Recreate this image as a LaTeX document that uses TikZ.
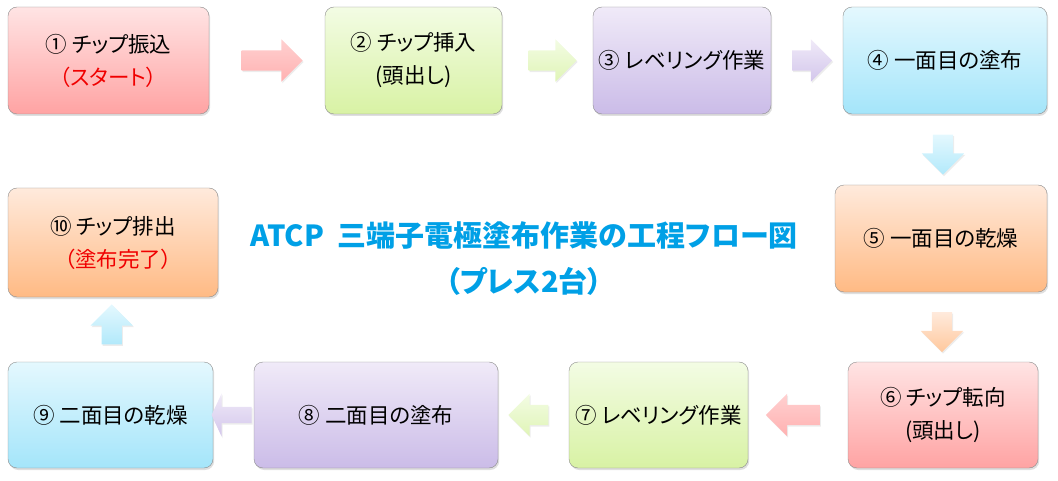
\documentclass[tikz,border=0pt]{standalone}
\usepackage{fontspec}
\usepackage{xcolor}
\newfontfamily\jp[RawFeature=+palt]{Noto Sans CJK JP}
\usetikzlibrary{positioning,shapes.arrows,shadows,calc}

\definecolor{pinkT}{HTML}{FFE4E4}
\definecolor{pinkB}{HTML}{FFA3A3}
\definecolor{greenT}{HTML}{F3FCE4}
\definecolor{greenB}{HTML}{D8F2A4}
\definecolor{lilacT}{HTML}{F0EAF8}
\definecolor{lilacB}{HTML}{CBBCE8}
\definecolor{cyanT}{HTML}{E4F8FE}
\definecolor{cyanB}{HTML}{A4E5FA}
\definecolor{peachT}{HTML}{FFEADC}
\definecolor{peachB}{HTML}{FFBA84}
\definecolor{ttlblue}{RGB}{0,160,230}
\definecolor{redtxt}{RGB}{240,0,0}

\begin{document}
\begin{tikzpicture}[x=1pt,y=-1pt,
  box/.style={draw=black!45,rounded corners=9pt,align=center,
              font=\jp\fontsize{21.5}{33}\selectfont,minimum height=107pt,
              drop shadow={opacity=0.25,shadow xshift=1.2pt,shadow yshift=-2pt}},
  pinkbox/.style={box,top color=pinkT,bottom color=pinkB},
  greenbox/.style={box,top color=greenT,bottom color=greenB},
  lilacbox/.style={box,top color=lilacT,bottom color=lilacB},
  cyanbox/.style={box,top color=cyanT,bottom color=cyanB},
  peachbox/.style={box,top color=peachT,bottom color=peachB},
  title/.style={align=center,text=ttlblue,font=\jp\bfseries\fontsize{29}{46}\selectfont},
  flow/.style={single arrow,draw=none,inner sep=10pt,minimum height=40pt,
               single arrow head extend=11pt,
               drop shadow={opacity=0.15,shadow xshift=1pt,shadow yshift=-1.5pt}},
  pinkarr/.style={flow,top color=pinkT!70!pinkB,bottom color=pinkB!85},
  greenarr/.style={flow,top color=greenT,bottom color=greenB!80},
  lilacarr/.style={flow,top color=lilacT,bottom color=lilacB!85},
  cyanarr/.style={flow,top color=cyanT,bottom color=cyanB!85},
  peacharr/.style={flow,top color=peachT,bottom color=peachB!80}]
\useasboundingbox (0,0) rectangle (1058,481);

% boxes
\node[pinkbox,minimum width=201pt] (b1) at (108.5,60.5) {① チップ振込\\
  \textcolor{redtxt}{（スタート）}};
\node[greenbox,minimum width=177pt] (b2) at (413.5,60.5) {② チップ挿入\\ (頭出し)};
\node[lilacbox,minimum width=178pt] (b3) at (682,60.5) {③ レベリング作業};
\node[cyanbox,minimum width=204pt] (b4) at (945,60.5) {④ 一面目の塗布};
\node[peachbox,minimum width=212pt] (b5) at (941,238.5) {⑤ 一面目の乾燥};
\node[pinkbox,minimum width=190pt,minimum height=106pt] (b6) at (943,415)
  {⑥ チップ転向\\ (頭出し)};
\node[greenbox,minimum width=179pt,minimum height=106pt] (b7) at (658.5,415)
  {⑦ レベリング作業};
\node[lilacbox,minimum width=244pt,minimum height=106pt] (b8) at (376,415)
  {⑧ 二面目の塗布};
\node[cyanbox,minimum width=205pt,minimum height=106pt] (b9) at (110.5,415)
  {⑨ 二面目の乾燥};
\node[peachbox,minimum width=210pt,minimum height=109pt] (b10) at (113,242.5)
  {⑩ チップ排出\\ \hspace{0.5em}\textcolor{redtxt}{（塗布完了）}};

\node[title] (ttl) at (524,259) {ATCP\hspace{0.25em} 三端子電極塗布作業の工程フロー図\\
  （プレス2台）};

% block arrows
\path (b1.east) -- node[pinkarr,minimum height=61pt] (a1) {} (b2.west);
\path (b2.east) -- node[greenarr,minimum height=48pt] (a2) {} (b3.west);
\path (b3.east) -- node[lilacarr] (a3) {} (b4.west);
\path (b4.south) -- node[cyanarr,shape border rotate=270] (a4) {} (b5.north);
\path (b5.south) -- node[peacharr,shape border rotate=270] (a5) {} (b6.north);
\path (b6.west) -- node[pinkarr,shape border rotate=180,minimum height=54pt] (a6) {} (b7.east);
\path (b7.west) -- node[greenarr,shape border rotate=180] (a7) {} (b8.east);
\path (b8.west) -- node[lilacarr,shape border rotate=180,inner sep=8pt,
  single arrow head extend=13.5pt,single arrow tip angle=130] (a8) {} (b9.east);
\path (b9.north) -- node[cyanarr,shape border rotate=90] (a9) {} (b10.south);
\end{tikzpicture}
\end{document}
